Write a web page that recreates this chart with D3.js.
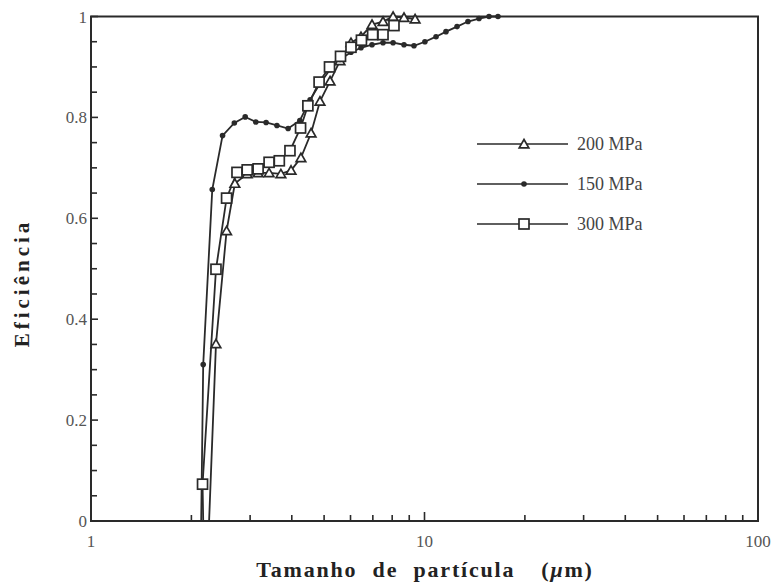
<!DOCTYPE html>
<html><head><meta charset="utf-8">
<script src="https://cdn.jsdelivr.net/npm/d3@7"></script>
<style>body{margin:0;background:#fff}svg{display:block}</style>
</head><body><svg id="c" width="776" height="582"></svg>
<script>
// ---- data ----
const s200x = [2.26, 2.37, 2.55, 2.70, 2.94, 3.17, 3.42, 3.71, 3.98, 4.26, 4.57, 4.86, 5.21, 5.58, 6.02, 6.45, 6.96, 7.51, 8.05, 8.68, 9.37];
const s200y = [0, 0.351, 0.575, 0.669, 0.688, 0.690, 0.690, 0.688, 0.695, 0.720, 0.769, 0.832, 0.872, 0.912, 0.948, 0.960, 0.984, 0.990, 1.0, 0.998, 0.995];
const s150x = [2.14, 2.17, 2.31, 2.48, 2.69, 2.90, 3.12, 3.35, 3.61, 3.90, 4.23, 4.54, 4.86, 5.21, 5.58, 6.02, 6.45, 6.96, 7.51, 8.05, 8.68, 9.30, 10.03, 10.83, 11.60, 12.52, 13.50, 14.57, 15.61, 16.61];
const s150y = [0, 0.31, 0.657, 0.764, 0.789, 0.801, 0.791, 0.790, 0.784, 0.778, 0.794, 0.835, 0.867, 0.895, 0.915, 0.929, 0.938, 0.944, 0.948, 0.948, 0.944, 0.942, 0.950, 0.960, 0.970, 0.980, 0.990, 0.996, 1.0, 1.0];
const s300x = [2.17, 2.16, 2.37, 2.55, 2.74, 2.94, 3.17, 3.42, 3.67, 3.95, 4.25, 4.47, 4.83, 5.19, 5.60, 6.02, 6.47, 6.99, 7.51, 8.10];
const s300y = [0, 0.073, 0.499, 0.640, 0.691, 0.696, 0.698, 0.711, 0.714, 0.734, 0.779, 0.823, 0.870, 0.900, 0.921, 0.939, 0.953, 0.964, 0.964, 0.982];
const seriesNames = ["200 MPa", "150 MPa", "300 MPa"];
const seriesMarkers = ["triangle", "dot", "square"];
const xTickLabels = ["1", "10", "100"];
const yTickLabels = ["0", "0.2", "0.4", "0.6", "0.8", "1"];
const xTitle = "Tamanho de partícula";
const xUnit = "\u03bc";
const yTitle = "Eficiência";

// ---- layout ----
const L = 91, R = 758, T = 16.5, B = 521;
const x = d3.scaleLog().domain([1, 100]).range([L, R]);
const y = d3.scaleLinear().domain([0, 1]).range([B, T]);
const ink = "#2a2a2a";
const svg = d3.select("#c");

// frame
svg.append("rect").attr("x", L).attr("y", T).attr("width", R - L).attr("height", B - T)
  .attr("fill", "none").attr("stroke", ink).attr("stroke-width", 2);

// y ticks (inward)
const yMinor = d3.range(0, 1.0001, 0.05);
svg.append("g").selectAll("line").data(yMinor).join("line")
  .attr("x1", L).attr("x2", d => L + (Math.abs(d * 5 - Math.round(d * 5)) < 1e-6 ? 7 : 6))
  .attr("y1", d => y(d)).attr("y2", d => y(d))
  .attr("stroke", ink).attr("stroke-width", 1.6);
svg.append("g").selectAll("text").data(yTickLabels).join("text")
  .attr("x", L - 4).attr("y", d => y(+d) + 6)
  .attr("text-anchor", "end")
  .attr("font-family", "Liberation Serif, serif").attr("font-size", 17).attr("fill", "#555")
  .text(d => d);

// x ticks (inward)
const xMinor = [];
[1, 10].forEach(b => { for (let k = 2; k <= 9; k++) xMinor.push(b * k); });
svg.append("g").selectAll("line").data(xMinor).join("line")
  .attr("x1", d => x(d)).attr("x2", d => x(d))
  .attr("y1", B).attr("y2", B - 6)
  .attr("stroke", ink).attr("stroke-width", 1.6);
svg.append("line").attr("x1", x(10)).attr("x2", x(10)).attr("y1", B).attr("y2", B - 9)
  .attr("stroke", ink).attr("stroke-width", 1.6);
svg.append("g").selectAll("text").data(xTickLabels).join("text")
  .attr("x", d => x(+d)).attr("y", B + 26)
  .attr("text-anchor", "middle")
  .attr("font-family", "Liberation Serif, serif").attr("font-size", 17).attr("fill", "#555")
  .text(d => d);

// titles
const xt = svg.append("text").attr("x", 425).attr("y", 577).attr("text-anchor", "middle")
  .attr("font-family", "Liberation Serif, serif").attr("font-weight", "bold")
  .attr("font-size", 22).attr("letter-spacing", 1.8).attr("word-spacing", 8).attr("fill", "#222");
xt.append("tspan").text(xTitle);
xt.append("tspan").attr("dx", 26).text("(");
xt.append("tspan").attr("font-style", "italic").text(xUnit);
xt.append("tspan").text("m)");
svg.append("text").attr("transform", "translate(29,283) rotate(-90)").attr("text-anchor", "middle")
  .attr("font-family", "Liberation Serif, serif").attr("font-weight", "bold")
  .attr("font-size", 21).attr("letter-spacing", 4).attr("fill", "#222")
  .text(yTitle);

// series
const series = [
  { xs: s200x, ys: s200y, m: seriesMarkers[0] },
  { xs: s150x, ys: s150y, m: seriesMarkers[1] },
  { xs: s300x, ys: s300y, m: seriesMarkers[2] }
];
const line = d3.line().x(d => x(d[0])).y(d => y(d[1]));
function marker(g, m, cx, cy) {
  if (m === "dot") {
    g.append("circle").attr("cx", cx).attr("cy", cy).attr("r", 2.8).attr("fill", ink);
  } else if (m === "square") {
    g.append("rect").attr("x", cx - 5).attr("y", cy - 5).attr("width", 10).attr("height", 10)
      .attr("fill", "#fff").attr("stroke", ink).attr("stroke-width", 1.7);
  } else {
    g.append("path").attr("d", d3.symbol(d3.symbolTriangle, 40)())
      .attr("transform", `translate(${cx},${cy + 1})`)
      .attr("fill", "#fff").attr("stroke", ink).attr("stroke-width", 1.7);
  }
}
series.forEach(s => {
  const pts = s.xs.map((v, i) => [v, s.ys[i]]);
  svg.append("path").attr("d", line(pts)).attr("fill", "none").attr("stroke", ink).attr("stroke-width", 1.8);
});
series.forEach(s => {
  const g = svg.append("g");
  s.xs.forEach((v, i) => { if (s.ys[i] > 0) marker(g, s.m, x(v), y(s.ys[i])); });
});

// legend
const legY = [144, 184, 224];
seriesNames.forEach((n, i) => {
  const g = svg.append("g");
  g.append("line").attr("x1", 477).attr("x2", 568).attr("y1", legY[i]).attr("y2", legY[i])
    .attr("stroke", ink).attr("stroke-width", 1.6);
  marker(g, seriesMarkers[i], 524, legY[i]);
  g.append("text").attr("x", 577).attr("y", legY[i] + 6)
    .attr("font-family", "Liberation Serif, serif").attr("font-size", 18).attr("fill", "#444")
    .text(n);
});
</script></body></html>
